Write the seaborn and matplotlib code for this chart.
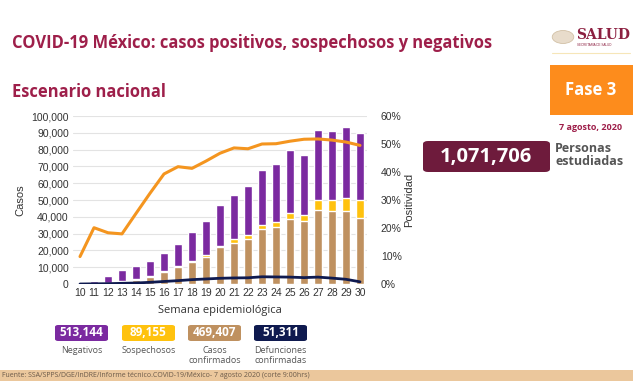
import numpy as np
import pandas as pd
import matplotlib
matplotlib.use("Agg")
import matplotlib.pyplot as plt
from matplotlib.patches import FancyBboxPatch, Rectangle, Circle
import seaborn as sns

# semanas epidemiologicas 10-30
semanas = [str(s) for s in range(10, 31)]
negativos_total = [200, 1800, 4600, 8300, 10700, 13700, 18300, 23800, 31000, 37500, 46800,
                   53200, 58500, 67900, 71400, 79600, 77000, 91700, 91000, 93600, 89900]
sospechosos_top = [100, 300, 600, 1800, 2800, 4800, 7500, 10500, 13600, 17000, 22800,
                   26600, 29200, 35100, 36900, 42100, 41100, 50000, 50000, 51000, 50000]
confirmados = [50, 200, 500, 1400, 2300, 4300, 7000, 10000, 13100, 16300, 21800,
               24600, 26800, 32500, 34100, 38700, 37700, 43800, 43500, 43700, 39500]
defunciones = [0, 100, 200, 400, 600, 1000, 1500, 2000, 2600, 3000, 3400,
               3600, 3700, 4300, 4200, 4100, 3800, 4100, 3500, 2800, 1300]
positividad = [9.8, 20.1, 18.3, 17.9, 25.2, 32.4, 39.3, 41.9, 41.3, 43.9, 46.7,
               48.6, 48.3, 50.0, 50.1, 51.0, 51.7, 51.8, 51.4, 50.7, 49.5]

totales_val = ["513,144", "89,155", "469,407", "51,311"]
totales_lab = ["Negativos", "Sospechosos", "Casos\nconfirmados", "Defunciones\nconfirmadas"]

c_neg = "#7b2aa0"
c_sos = "#ffc20e"
c_conf = "#bf9160"
c_def = "#0f1a4f"
c_pos = "#f4951f"
crimson = "#9e1f4a"

df = pd.DataFrame({"semana": semanas, "neg": negativos_total, "sos": sospechosos_top,
                   "conf": confirmados, "def": defunciones, "pos": positividad})

sns.set_style("white")
plt.rcParams["font.family"] = ["Liberation Sans", "DejaVu Sans"]

fig = plt.figure(figsize=(6.33, 3.81), dpi=100)
ax = fig.add_axes([73 / 633, 1 - 284 / 381, 294 / 633, 168 / 381])

sns.barplot(data=df, x="semana", y="neg", color=c_neg, width=0.52, ax=ax, saturation=1)
sns.barplot(data=df, x="semana", y="sos", color=c_sos, width=0.52, ax=ax, saturation=1)
sns.barplot(data=df, x="semana", y="conf", color=c_conf, width=0.52, ax=ax, saturation=1)
sns.lineplot(data=df, x="semana", y="def", color=c_def, linewidth=2, ax=ax)

ax.set_ylim(0, 100000)
ax.set_xlim(-0.5, len(semanas) - 0.5)
ax.set_yticks(np.arange(0, 100001, 10000))
ax.set_yticklabels([f"{v:,}" for v in range(0, 100001, 10000)])
ax.yaxis.grid(True, color="#e3e3e3", linewidth=0.8)
ax.set_axisbelow(True)
for s in ax.spines.values():
    s.set_visible(False)
ax.tick_params(axis="both", length=0, labelsize=7.5, colors="#333333", pad=3)
ax.set_xlabel("Semana epidemiológica", fontsize=8, color="#333333", family="Open Sans", labelpad=5)
ax.set_ylabel("Casos", fontsize=8, color="#333333", labelpad=4)

ax2 = ax.twinx()
sns.lineplot(data=df, x="semana", y="pos", color=c_pos, linewidth=2.2, ax=ax2)
ax2.set_ylim(0, 60)
ax2.set_yticks(np.arange(0, 61, 10))
ax2.set_yticklabels([f"{v}%" for v in range(0, 61, 10)])
for s in ax2.spines.values():
    s.set_visible(False)
ax2.tick_params(axis="y", length=0, labelsize=7.5, colors="#333333", pad=10)
ax2.set_ylabel("Positividad", fontsize=8, color="#333333", labelpad=2)

# titulos
fig.text(12 / 633, 1 - 43 / 381, "COVID-19 México: casos positivos, sospechosos y negativos",
         fontsize=11.9, fontweight="bold", color=crimson, family="Open Sans", va="center")
fig.text(12 / 633, 1 - 92 / 381, "Escenario nacional",
         fontsize=11.9, fontweight="bold", color=crimson, family="Open Sans", va="center")

# logo salud
fig.patches.append(Circle((563 / 633, 1 - 37 / 381), 0.017, transform=fig.transFigure,
                          facecolor="#e8dccb", edgecolor="#d2c1a6", linewidth=0.6))
fig.text(576 / 633, 1 - 35 / 381, "SALUD", fontsize=10, fontweight="bold", color="#8c2041",
         family="DejaVu Serif", va="center")
fig.text(577 / 633, 1 - 45 / 381, "SECRETARÍA DE SALUD", fontsize=2.2, color="#8c2041", va="center")
fig.lines.append(plt.Line2D([552 / 633, 630 / 633], [1 - 53 / 381] * 2, transform=fig.transFigure,
                            color="#f6e6b8", linewidth=0.8))

# fase 3
fig.patches.append(Rectangle((550 / 633, 1 - 115 / 381), 83 / 633, 50 / 381,
                             transform=fig.transFigure, facecolor="#fd8c1c", edgecolor="none"))
fig.text(591 / 633, 1 - 90 / 381, "Fase 3", fontsize=12, fontweight="bold", color="white",
         family="Open Sans", ha="center", va="center")
fig.text(591 / 633, 1 - 128 / 381, "7 agosto, 2020", fontsize=6.5, fontweight="bold", color=crimson,
         family="Open Sans", ha="center", va="center")

# personas estudiadas
fig.patches.append(FancyBboxPatch((423 / 633, 1 - 172 / 381), 127 / 633, 31 / 381,
                                  boxstyle="round,pad=0,rounding_size=0.008",
                                  transform=fig.transFigure, facecolor="#6e1b3c", edgecolor="none"))
fig.text(486 / 633, 1 - 157 / 381, "1,071,706", fontsize=14.5, fontweight="bold", color="white",
         family="Open Sans", ha="center", va="center")
fig.text(555 / 633, 1 - 155 / 381, "Personas\nestudiadas", fontsize=9, fontweight="bold",
         color="#555555", family="Open Sans", va="center", linespacing=0.95)

# totales
box_cols = [c_neg, c_sos, c_conf, c_def]
box_x = [55, 122, 188, 254]
for x0, col, val, lab in zip(box_x, box_cols, totales_val, totales_lab):
    fig.patches.append(FancyBboxPatch((x0 / 633, 1 - 341 / 381), 53 / 633, 16 / 381,
                                      boxstyle="round,pad=0,rounding_size=0.005",
                                      transform=fig.transFigure, facecolor=col, edgecolor="none"))
    fig.text((x0 + 26.5) / 633, 1 - 333 / 381, val, fontsize=8.5, fontweight="bold", color="white",
             family="Open Sans", ha="center", va="center")
    fig.text((x0 + 26.5) / 633, 1 - 346 / 381, lab, fontsize=6.5, color="#555555",
             family="Open Sans", ha="center", va="top", linespacing=1.1)

# pie de fuente
fig.patches.append(Rectangle((0, 0), 1, 11 / 381, transform=fig.transFigure,
                             facecolor="#ebc79c", edgecolor="none"))
fig.text(2 / 633, 5.5 / 381, "Fuente: SSA/SPPS/DGE/InDRE/Informe técnico.COVID-19/México- 7 agosto 2020 (corte 9:00hrs)",
         fontsize=5, color="#6b5a4a", family="Open Sans", va="center")

fig.savefig("out.png", dpi=100)
